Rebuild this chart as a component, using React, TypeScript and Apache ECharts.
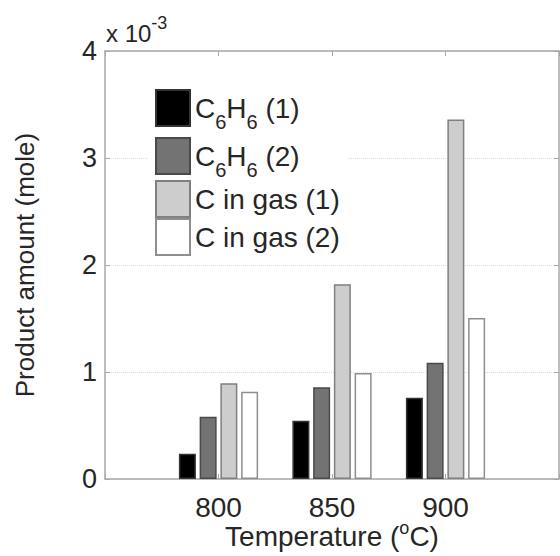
import React, { useEffect, useRef } from "react";
import * as echarts from "echarts";

// Temperatures (°C) and product amounts in units of 10^-3 mole
const temperatures = [800, 850, 900];
const benzene1 = [0.236, 0.545, 0.76];
const benzene2 = [0.582, 0.857, 1.087];
const carbonGas1 = [0.894, 1.82, 3.36];
const carbonGas2 = [0.816, 0.99, 1.505];

const seriesNames = ["C6H6 (1)", "C6H6 (2)", "C in gas (1)", "C in gas (2)"];
const yTicks = [0, 1, 2, 3, 4];
const xTickLabels = ["800", "850", "900"];

const FONT = "'Liberation Sans', Arial, Helvetica, sans-serif";
const TEXT = "#262626";
const BOX = "#a8a8a8";

export default function App() {
  const ref = useRef<HTMLDivElement>(null);

  useEffect(() => {
    document.body.style.margin = "0";
    const chart = echarts.init(ref.current!, null, { renderer: "svg" });

    const toPairs = (vals: number[]) => temperatures.map((t, i) => [t, vals[i]]);
    const fills = ["#000000", "#737373", "#cdcdcd", "#ffffff"];
    const borders = ["#333333", "#4a4a4a", "#808080", "#8f8f8f"];
    const valueSets = [benzene1, benzene2, carbonGas1, carbonGas2];

    const series = valueSets.map((vals, i) => ({
      type: "bar" as const,
      name: seriesNames[i],
      data: toPairs(vals),
      barWidth: 17,
      barGap: "22%",
      itemStyle: { color: fills[i], borderColor: borders[i], borderWidth: 1.5 },
      xAxisIndex: 0,
      yAxisIndex: 0,
    }));

    const tickLabelStyle = { color: TEXT, fontFamily: FONT };

    chart.setOption({
      animation: false,
      textStyle: { fontFamily: FONT },
      grid: {
        left: 105,
        right: 1,
        top: 51,
        bottom: 77,
        containLabel: false,
        outerBoundsMode: "none",
      },
      xAxis: [
        {
          type: "value",
          min: 750,
          max: 950,
          interval: 50,
          position: "bottom",
          axisLine: { show: true, lineStyle: { color: BOX, width: 1.5 } },
          axisTick: { show: true, inside: true, length: 5, lineStyle: { color: BOX } },
          axisLabel: {
            ...tickLabelStyle,
            fontSize: 28,
            margin: 14,
            formatter: (v: number) => (xTickLabels.includes(String(v)) ? String(v) : ""),
          },
          splitLine: { show: false },
          name: "Temperature ({s|o}C)",
          nameLocation: "middle",
          nameGap: 42,
          nameMoveOverlap: false,
          nameTextStyle: {
            color: TEXT,
            fontSize: 28,
            lineHeight: 30,
            fontFamily: FONT,
            rich: { s: { fontSize: 18, lineHeight: 18, padding: [0, 0, 16, 0], color: TEXT, fontFamily: FONT } },
          },
        },
        {
          type: "value",
          min: 750,
          max: 950,
          interval: 50,
          position: "top",
          axisLine: { show: true, onZero: false, lineStyle: { color: BOX, width: 1.5 } },
          axisTick: { show: true, inside: true, length: 5, lineStyle: { color: BOX } },
          axisLabel: { show: false },
          splitLine: { show: false },
        },
      ],
      yAxis: [
        {
          type: "value",
          min: yTicks[0],
          max: yTicks[yTicks.length - 1],
          interval: 1,
          position: "left",
          axisLine: { show: true, lineStyle: { color: BOX, width: 1.5 } },
          axisTick: { show: true, inside: true, length: 5, lineStyle: { color: BOX } },
          axisLabel: { ...tickLabelStyle, fontSize: 27, margin: 8 },
          splitLine: { show: true, lineStyle: { color: "#dcdcdc", type: "dotted", width: 1 } },
          name: "Product amount (mole)",
          nameLocation: "middle",
          nameGap: 67,
          nameMoveOverlap: false,
          nameTextStyle: { color: TEXT, fontSize: 26, fontFamily: FONT },
        },
        {
          type: "value",
          min: yTicks[0],
          max: yTicks[yTicks.length - 1],
          interval: 1,
          position: "right",
          axisLine: { show: true, onZero: false, lineStyle: { color: BOX, width: 1.5 } },
          axisTick: { show: true, inside: true, length: 5, lineStyle: { color: BOX } },
          axisLabel: { show: false },
          splitLine: { show: false },
        },
      ],
      legend: {
        orient: "vertical",
        left: 148,
        top: 80,
        padding: [4, 8, 4, 7],
        itemGap: 0,
        itemWidth: 34,
        itemHeight: 36,
        icon: "rect",
        selectedMode: false,
        backgroundColor: "#ffffff",
        data: seriesNames,
        formatter: (name: string) => name.replace("C6H6", "C{sub|6}H{sub|6}"),
        textStyle: {
          color: TEXT,
          fontSize: 28,
          lineHeight: 36,
          fontFamily: FONT,
          rich: {
            sub: { fontSize: 20, lineHeight: 20, padding: [28, 0, 0, 0], color: TEXT, fontFamily: FONT },
          },
        },
      },
      graphic: [
        {
          type: "text",
          x: 106,
          y: 33,
          style: {
            text: "{b|x 10}{s|-3}",
            verticalAlign: "middle",
            rich: {
              b: { fontSize: 24, fill: TEXT, fontFamily: FONT },
              s: { fontSize: 18, padding: [0, 0, 20, 0], fill: TEXT, fontFamily: FONT },
            },
          },
        },
      ],
      series,
    });

    return () => chart.dispose();
  }, []);

  return <div ref={ref} style={{ width: 560, height: 556 }} />;
}
